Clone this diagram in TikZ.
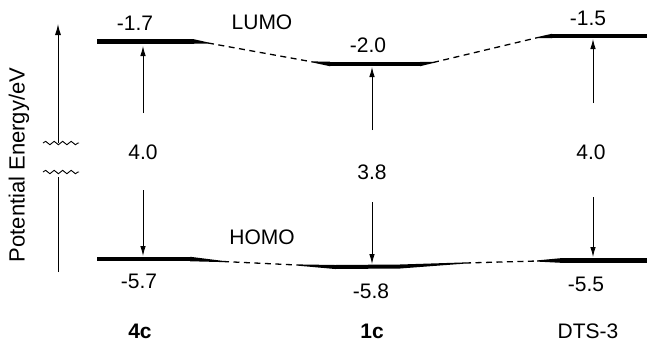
\documentclass[tikz,border=0pt]{standalone}
\usepackage{fontspec}
\setmainfont{Liberation Sans}
\usetikzlibrary{arrows.meta,calc,decorations.pathmorphing}
\begin{document}
\begin{tikzpicture}[x=1pt,y=-1pt,
  lbl/.style={inner sep=0pt,font=\fontsize{21}{24}\selectfont},
  bar/.style={line width=4.5pt},
  dash link/.style={line width=1.3pt,dash pattern=on 6pt off 4.5pt},
  gap/.style={line width=0.9pt,-{Latex[length=10pt,width=5.5pt]}},
  brk/.style={line width=0.9pt,decorate,decoration={snake,segment length=8.5pt,amplitude=1.7pt}}]
\useasboundingbox (0,0) rectangle (647,343);
% axis
\coordinate (ax0) at (58,272);
\coordinate (ax1) at (58,177);
\coordinate (ax2) at (58,143);
\coordinate (ax3) at (58,24);
\draw[line width=1pt] (ax0) -- (ax1);
\draw[line width=1pt,-{Latex[length=11pt,width=6pt]}] (ax2) -- (ax3);
\draw[brk] (43,143) -- (79,143);
\draw[brk] (43,172) -- (79,172);
\node[lbl,rotate=90,font=\fontsize{22}{24}\selectfont] (axl) at (19,165) {Potential Energy/eV};
% LUMO coordinates
\coordinate (la1) at (97,41.5);  \coordinate (la2) at (194,41.5); \coordinate (la3) at (208,43);
\coordinate (lb0) at (313,62);   \coordinate (lb1) at (330,64);   \coordinate (lb2) at (420,64); \coordinate (lb3) at (433,62.5);
\coordinate (lc0) at (538,37.5); \coordinate (lc1) at (552,36);   \coordinate (lc2) at (647,36);
% HOMO coordinates
\coordinate (ha1) at (97,259);   \coordinate (ha2) at (190,259);  \coordinate (ha3) at (223,261.5);
\coordinate (hb0) at (297,265);  \coordinate (hb1) at (335,267);  \coordinate (hb2) at (400,266.5); \coordinate (hb3) at (465,263);
\coordinate (hc0) at (537,261);  \coordinate (hc1) at (560,260.5);\coordinate (hc2) at (647,260.5);
% bars
\draw[bar] (la1) -- (la2);
\draw[bar] (lb1) -- (lb2);
\draw[bar] (lc1) -- (lc2);
\draw[bar] (ha1) -- (ha2);
\draw[line width=4pt] (hb1) -- (hb2);
\draw[bar] (hc1) -- (hc2);
% tapers
\fill ($(la2)+(0,-2.25)$) -- ($(la3)+(0,-0.6)$) -- ($(la3)+(0,0.6)$) -- ($(la2)+(0,2.25)$) -- cycle;
\fill ($(lb0)+(0,-0.6)$) -- ($(lb1)+(0,-2.25)$) -- ($(lb1)+(0,2.25)$) -- ($(lb0)+(0,0.6)$) -- cycle;
\fill ($(lb2)+(0,-2.25)$) -- ($(lb3)+(0,-0.6)$) -- ($(lb3)+(0,0.6)$) -- ($(lb2)+(0,2.25)$) -- cycle;
\fill ($(lc0)+(0,-0.6)$) -- ($(lc1)+(0,-2.25)$) -- ($(lc1)+(0,2.25)$) -- ($(lc0)+(0,0.6)$) -- cycle;
\fill ($(ha2)+(0,-2.25)$) -- ($(ha3)+(0,-0.6)$) -- ($(ha3)+(0,0.6)$) -- ($(ha2)+(0,2.25)$) -- cycle;
\fill ($(hb0)+(0,-0.6)$) -- ($(hb1)+(0,-2)$) -- ($(hb1)+(0,2)$) -- ($(hb0)+(0,0.6)$) -- cycle;
\fill ($(hb2)+(0,-2)$) -- ($(hb3)+(0,-0.6)$) -- ($(hb3)+(0,0.6)$) -- ($(hb2)+(0,2)$) -- cycle;
\fill ($(hc0)+(0,-0.6)$) -- ($(hc1)+(0,-2.25)$) -- ($(hc1)+(0,2.25)$) -- ($(hc0)+(0,0.6)$) -- cycle;
% dashed links
\draw[dash link] (la3) -- (lb0);
\draw[dash link] (lb3) -- (lc0);
\draw[dash link] (ha3) -- (hb0);
\draw[dash link] (hb3) -- (hc0);
% gap arrows
\coordinate (a1t) at (143,113); \coordinate (a1h) at (143,46);
\coordinate (a2t) at (143,190); \coordinate (a2h) at (143,256);
\coordinate (b1t) at (372,130); \coordinate (b1h) at (372,67);
\coordinate (b2t) at (372,202); \coordinate (b2h) at (372,264);
\coordinate (c1t) at (593,103); \coordinate (c1h) at (593,39);
\coordinate (c2t) at (593,197); \coordinate (c2h) at (593,257);
\draw[gap] (a1t) -- (a1h);
\draw[gap] (a2t) -- (a2h);
\draw[gap] (b1t) -- (b1h);
\draw[gap] (b2t) -- (b2h);
\draw[gap] (c1t) -- (c1h);
\draw[gap] (c2t) -- (c2h);
% labels
\node[lbl] (g1) at (143,152) {4.0};
\node[lbl] (g2) at (372,172) {3.8};
\node[lbl] (g3) at (591,152) {4.0};
\node[lbl] (v1) at (135,23) {-1.7};
\node[lbl] (v2) at (368,45) {-2.0};
\node[lbl] (v3) at (588,18) {-1.5};
\node[lbl] (v4) at (139,281) {-5.7};
\node[lbl] (v5) at (371,291) {-5.8};
\node[lbl] (v6) at (586,284) {-5.5};
\node[lbl] (lumo) at (262,22) {LUMO};
\node[lbl] (homo) at (262,237) {HOMO};
\node[lbl,font=\fontsize{21}{24}\selectfont\bfseries] (n1) at (140,331) {4c};
\node[lbl,font=\fontsize{21}{24}\selectfont\bfseries] (n2) at (372,331) {1c};
\node[lbl] (n3) at (588,331) {DTS-3};
\end{tikzpicture}
\end{document}
